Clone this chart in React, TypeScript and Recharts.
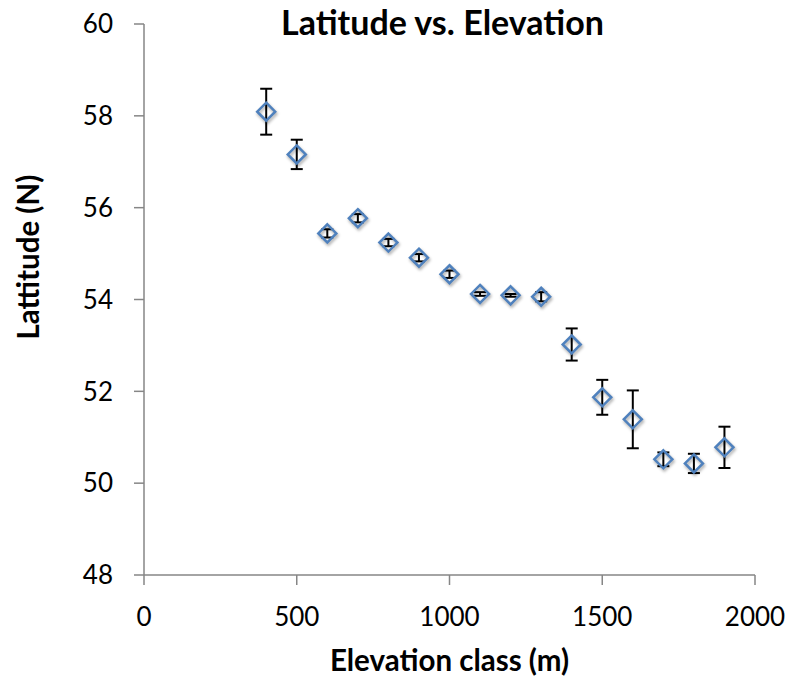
import React from 'react';
import { ScatterChart, Scatter, XAxis, YAxis, ErrorBar } from 'recharts';

// elevation classes (m) and mean latitude (N) with +/- error
const ELEVATION = [400, 500, 600, 700, 800, 900, 1000, 1100, 1200, 1300, 1400, 1500, 1600, 1700, 1800, 1900];
const LATITUDE = [58.09, 57.16, 55.44, 55.77, 55.24, 54.91, 54.55, 54.12, 54.09, 54.06, 53.02, 51.87, 51.39, 50.52, 50.43, 50.78];
const LAT_ERROR = [0.5, 0.32, 0.09, 0.09, 0.08, 0.08, 0.08, 0.04, 0.03, 0.1, 0.35, 0.38, 0.63, 0.15, 0.21, 0.45];

const X_TICKS = [0, 500, 1000, 1500, 2000];
const Y_TICKS = [48, 50, 52, 54, 56, 58, 60];

const points = ELEVATION.map((elev, i) => ({ elev, lat: LATITUDE[i], err: LAT_ERROR[i] }));

const FONT = 'Lato, "Open Sans", sans-serif';
const AXIS_COLOR = '#868686';

const Diamond = (props: any) => {
  const { cx, cy } = props;
  const r = 9;
  return (
    <path
      d={`M${cx},${cy - r} L${cx + r},${cy} L${cx},${cy + r} L${cx - r},${cy} Z`}
      fill="none"
      stroke="#4F81BD"
      strokeWidth={2.5}
      style={{ filter: 'drop-shadow(1px 2px 1.5px rgba(0,0,0,0.35))' }}
    />
  );
};

// rotated y title, sits a bit above the middle of the axis
const YTitle = (props: any) => {
  const { viewBox } = props;
  const x = viewBox.x + 39;
  const y = viewBox.y + viewBox.height / 2 + 40;
  return (
    <text
      x={x}
      y={y}
      transform={`rotate(-90 ${x} ${y})`}
      textAnchor="start"
      fill="#000"
      fontSize={29.5}
      fontWeight="bold"
      fontFamily={FONT}
    >
      Lattitude (N)
    </text>
  );
};

export default function App() {
  return (
    <div style={{ position: 'absolute', left: 0, top: 0, width: 800, height: 679, background: '#fff', fontFamily: FONT }}>
      <ScatterChart width={800} height={679} margin={{ top: 24, right: 45, bottom: 0, left: 0 }}>
        <XAxis
          type="number"
          dataKey="elev"
          domain={[0, 2000]}
          ticks={X_TICKS}
          height={104}
          stroke={AXIS_COLOR}
          strokeWidth={1.5}
          tickSize={10}
          tickMargin={23}
          tick={{ fill: '#000', fontSize: 26, fontFamily: FONT }}
          label={{
            value: 'Elevation class (m)',
            position: 'insideBottom',
            offset: 8,
            style: { fill: '#000', fontSize: 29.5, fontWeight: 'bold', fontFamily: FONT },
          }}
        />
        <YAxis
          type="number"
          dataKey="lat"
          domain={[48, 60]}
          ticks={Y_TICKS}
          width={144}
          stroke={AXIS_COLOR}
          strokeWidth={1.5}
          tickSize={10}
          tickMargin={21}
          tick={{ fill: '#000', fontSize: 26, fontFamily: FONT }}
          label={<YTitle />}
        />
        <Scatter data={points} shape={<Diamond />} isAnimationActive={false}>
          <ErrorBar dataKey="err" direction="y" width={6} stroke="#000" strokeWidth={2} isAnimationActive={false} />
        </Scatter>
      </ScatterChart>
      <svg width={800} height={50} style={{ position: 'absolute', left: 0, top: 0, pointerEvents: 'none' }}>
        <text x={442.5} y={35} textAnchor="middle" fill="#000" fontSize={34} fontWeight="bold" fontFamily={FONT}>
          Latitude vs. Elevation
        </text>
      </svg>
    </div>
  );
}
